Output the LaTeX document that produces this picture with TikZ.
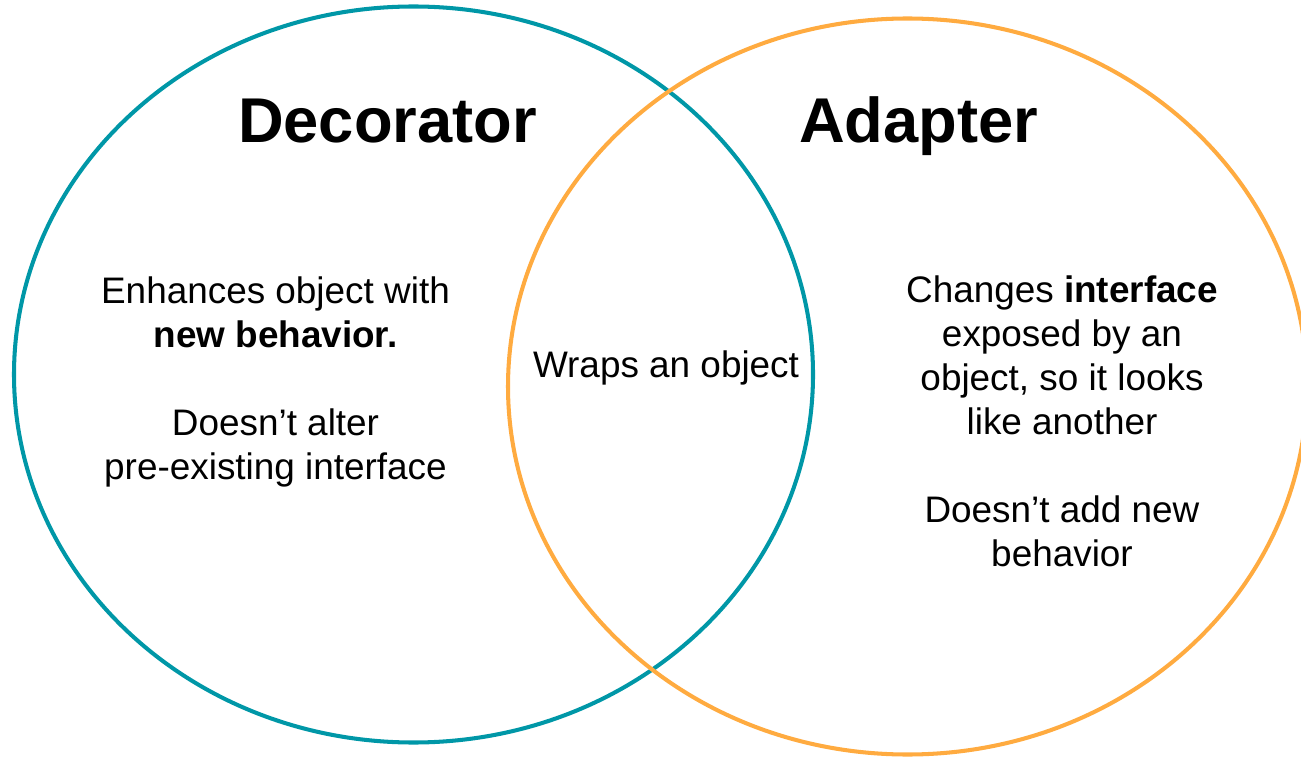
\documentclass[tikz,border=0pt]{standalone}
\usepackage{fontspec}
\setmainfont{Liberation Sans}
\usepackage{tikz}
\usetikzlibrary{shapes.geometric,positioning}
\definecolor{decteal}{HTML}{0097A7}
\definecolor{adaorange}{HTML}{FFAB40}
\tikzset{
  setc/.style={ellipse, draw, line width=2.3pt, minimum width=15.98cm, minimum height=14.72cm, inner sep=0pt},
  title/.style={font=\fontsize{36}{43}\selectfont\bfseries, inner sep=0pt, anchor=base},
  body/.style={font=\fontsize{21}{25}\selectfont, align=center, inner sep=0pt}
}
\begin{document}
\begin{tikzpicture}
  \useasboundingbox (0,0) rectangle (26.02,15.12);
  \node[setc, decteal] (dec) at (8.27,7.63) {};
  \node[setc, adaorange] (ada) at (18.15,7.39) {};
  \node[title] (dectitle) at (7.75,12.26) {Decorator};
  \node[title] (adatitle) at (18.37,12.26) {Adapter};
  \node[body] (dectext) at (5.51,7.48) {Enhances object with\\\textbf{new behavior.}\\[25pt]Doesn’t alter\\pre-existing interface};
  \node[body] (wraps) at (13.32,7.76) {Wraps an object};
  \node[body] (adatext) at (21.24,6.69) {Changes \textbf{interface}\\exposed by an\\object, so it looks\\like another\\[25pt]Doesn’t add new\\behavior};
\end{tikzpicture}
\end{document}
